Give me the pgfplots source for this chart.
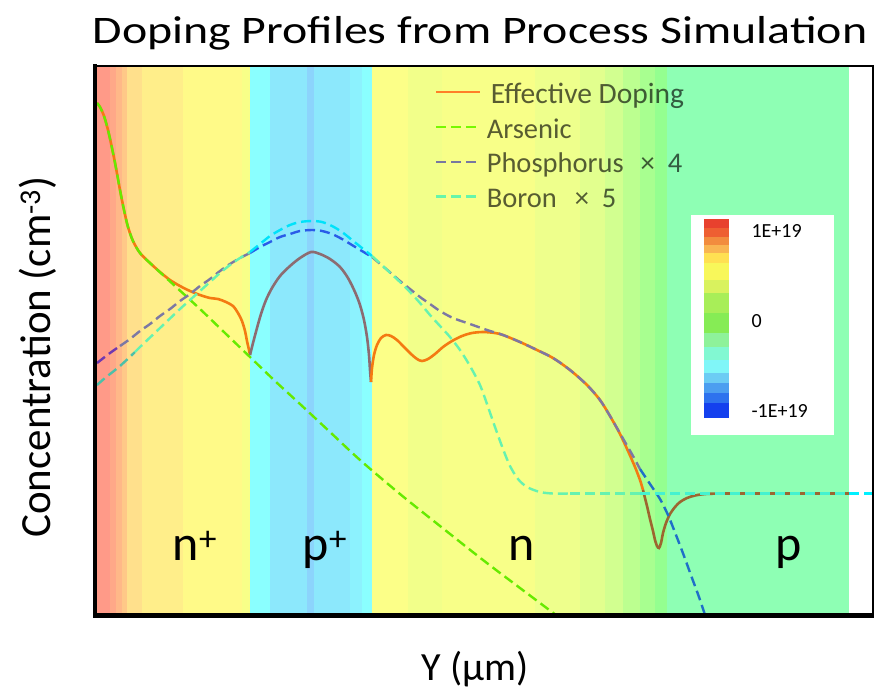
\documentclass[border=0pt]{standalone}
\usepackage{fontspec}
\setmainfont{Carlito}
\usepackage{pgfplots}
\pgfplotsset{compat=1.18}

\definecolor{effOr}{HTML}{F47A12}
\definecolor{effMa}{HTML}{8C6C72}
\definecolor{effBr}{HTML}{9C6630}
\definecolor{arsG}{HTML}{66EA00}
\definecolor{phN}{HTML}{7C78A4}
\definecolor{phL}{HTML}{7038B0}
\definecolor{phB}{HTML}{2A5CE8}
\definecolor{phP}{HTML}{1F6FC8}
\definecolor{boN}{HTML}{66F2B0}
\definecolor{boL}{HTML}{4CC0A8}
\definecolor{boC}{HTML}{00E2FA}
\definecolor{boP}{HTML}{44F2D0}
\definecolor{boW}{HTML}{00F0FF}
\definecolor{legOr}{HTML}{FF7F27}
\definecolor{legAs}{HTML}{77F800}
\definecolor{legPh}{HTML}{7878A0}
\definecolor{legBo}{HTML}{66F5AA}

\newcommand\lstrut{\rule[-6pt]{0pt}{30pt}}

\pgfplotsset{
  dl/.style={line width=2.4pt, dash pattern=on 10pt off 5pt},
  sl/.style={line width=2.6pt},
}

\begin{document}
\begin{tikzpicture}
\path[use as bounding box] (0pt,0pt) rectangle (874pt,689pt);
\begin{axis}[
  at={(95pt,74pt)}, anchor=south west,
  scale only axis, width=778pt, height=549pt,
  xmin=95, xmax=873, ymin=66, ymax=615, y dir=reverse,
  hide axis, clip=false,
  legend style={at={(0.4370,0.9800)}, anchor=north west, draw=none, fill=none,
    inner sep=0pt, column sep=3pt, row sep=5.4pt,
    nodes={inner sep=2pt, text opacity=0.64},
    font=\fontsize{28.5}{30}\selectfont},
  legend cell align=left,
  legend image code/.code={\draw[#1] (0pt,0pt) -- (44pt,0pt);},
]
% ---------- background colour bands (net doping map) ----------
\fill[fill={rgb,255:red,255;green,154;blue,136}] (axis cs:95,66) rectangle (axis cs:110,615);
\fill[fill={rgb,255:red,255;green,168;blue,136}] (axis cs:110,66) rectangle (axis cs:116,615);
\fill[fill={rgb,255:red,255;green,184;blue,136}] (axis cs:116,66) rectangle (axis cs:122,615);
\fill[fill={rgb,255:red,255;green,200;blue,136}] (axis cs:122,66) rectangle (axis cs:127,615);
\fill[fill={rgb,255:red,255;green,224;blue,140}] (axis cs:127,66) rectangle (axis cs:142,615);
\fill[fill={rgb,255:red,255;green,238;blue,138}] (axis cs:142,66) rectangle (axis cs:183,615);
\fill[fill={rgb,255:red,255;green,250;blue,136}] (axis cs:183,66) rectangle (axis cs:242,615);
\fill[fill={rgb,255:red,248;green,255;blue,136}] (axis cs:242,66) rectangle (axis cs:250,615);
\fill[fill={rgb,255:red,138;green,255;blue,255}] (axis cs:250,66) rectangle (axis cs:270,615);
\fill[fill={rgb,255:red,140;green,232;blue,252}] (axis cs:270,66) rectangle (axis cs:307,615);
\fill[fill={rgb,255:red,140;green,212;blue,252}] (axis cs:307,66) rectangle (axis cs:314,615);
\fill[fill={rgb,255:red,140;green,232;blue,252}] (axis cs:314,66) rectangle (axis cs:350,615);
\fill[fill={rgb,255:red,140;green,242;blue,254}] (axis cs:350,66) rectangle (axis cs:362,615);
\fill[fill={rgb,255:red,138;green,255;blue,255}] (axis cs:362,66) rectangle (axis cs:372,615);
\fill[fill={rgb,255:red,252;green,255;blue,136}] (axis cs:372,66) rectangle (axis cs:408,615);
\fill[fill={rgb,255:red,242;green,255;blue,138}] (axis cs:408,66) rectangle (axis cs:442,615);
\fill[fill={rgb,255:red,248;green,255;blue,136}] (axis cs:442,66) rectangle (axis cs:535,615);
\fill[fill={rgb,255:red,238;green,255;blue,140}] (axis cs:535,66) rectangle (axis cs:580,615);
\fill[fill={rgb,255:red,226;green,255;blue,142}] (axis cs:580,66) rectangle (axis cs:605,615);
\fill[fill={rgb,255:red,210;green,255;blue,144}] (axis cs:605,66) rectangle (axis cs:623,615);
\fill[fill={rgb,255:red,188;green,255;blue,144}] (axis cs:623,66) rectangle (axis cs:640,615);
\fill[fill={rgb,255:red,168;green,255;blue,144}] (axis cs:640,66) rectangle (axis cs:655,615);
\fill[fill={rgb,255:red,148;green,255;blue,144}] (axis cs:655,66) rectangle (axis cs:667,615);
\fill[fill={rgb,255:red,142;green,255;blue,180}] (axis cs:667,66) rectangle (axis cs:849,615);

% ---------- colour scale inset ----------
\fill[white] (axis cs:691,215) rectangle (axis cs:834,435);
\fill[fill={rgb,255:red,232;green,65;blue,46}]   (axis cs:704,219) rectangle (axis cs:729,228);
\fill[fill={rgb,255:red,238;green,95;blue,50}]   (axis cs:704,228) rectangle (axis cs:729,237);
\fill[fill={rgb,255:red,242;green,140;blue,62}]  (axis cs:704,237) rectangle (axis cs:729,245);
\fill[fill={rgb,255:red,249;green,181;blue,82}]  (axis cs:704,245) rectangle (axis cs:729,253);
\fill[fill={rgb,255:red,255;green,224;blue,82}]  (axis cs:704,253) rectangle (axis cs:729,263);
\fill[fill={rgb,255:red,248;green,247;blue,90}]  (axis cs:704,263) rectangle (axis cs:729,280);
\fill[fill={rgb,255:red,217;green,242;blue,94}]  (axis cs:704,280) rectangle (axis cs:729,293);
\fill[fill={rgb,255:red,168;green,238;blue,88}]  (axis cs:704,293) rectangle (axis cs:729,313);
\fill[fill={rgb,255:red,134;green,236;blue,85}]  (axis cs:704,313) rectangle (axis cs:729,333);
\fill[fill={rgb,255:red,142;green,242;blue,154}] (axis cs:704,333) rectangle (axis cs:729,347);
\fill[fill={rgb,255:red,130;green,248;blue,210}] (axis cs:704,347) rectangle (axis cs:729,360);
\fill[fill={rgb,255:red,128;green,246;blue,248}] (axis cs:704,360) rectangle (axis cs:729,373);
\fill[fill={rgb,255:red,108;green,204;blue,244}] (axis cs:704,373) rectangle (axis cs:729,383);
\fill[fill={rgb,255:red,76;green,158;blue,240}]  (axis cs:704,383) rectangle (axis cs:729,393);
\fill[fill={rgb,255:red,46;green,114;blue,238}]  (axis cs:704,393) rectangle (axis cs:729,403);
\fill[fill={rgb,255:red,20;green,64;blue,238}]   (axis cs:704,403) rectangle (axis cs:729,418);
\node[anchor=base west, font=\fontsize{20}{24}\selectfont] at (axis cs:748,237) {1E+19};
\node[anchor=base west, font=\fontsize{20}{24}\selectfont] at (axis cs:748,327) {0};
\node[anchor=base west, font=\fontsize{20}{24}\selectfont] at (axis cs:748,417) {-1E+19};

% ---------- Effective doping ----------
\addplot[sl, effOr, smooth, forget plot] coordinates {
(97,103) (100,107) (104,116) (108,130) (112,148) (116,168) (120,190) (124,210)
(128,227) (133,241) (140,253) (150,263) (160,272) (170,280) (180,286) (190,291)
(200,295) (210,298) (218,299) (226,302) (233,306) (238,313) (242,321) (245,331)
(247,341) (249,350) (250,355)};
\addplot[sl, effMa, smooth, forget plot] coordinates {
(250,355) (253,343) (257,328) (261,314) (266,300) (272,288) (280,276) (290,266)
(300,258) (311,252) (320,254) (330,259) (340,267) (348,278) (355,292) (360,305)
(364,320) (367,337) (369,355) (370,370) (371,382)};
\addplot[sl, effOr, smooth, forget plot] coordinates {
(371,382) (372,368) (374,355) (377,345) (381,338) (386,335) (391,336) (397,340)
(404,347) (411,354) (417,359) (422,361) (428,359) (435,354) (443,347) (452,341)
(462,336) (472,333) (483,332) (495,333) (503,335) (520,342) (537,350) (553,358)
(570,370) (587,385) (600,400) (610,416) (620,434) (628,451) (635,467) (640,480)
(643,490)};
\addplot[sl, effBr, smooth, forget plot] coordinates {
(643,490) (647,506) (650,519) (653,531) (655,540) (657,546) (659,548) (661,543)
(663,533) (666,523) (670,514) (675,507) (680,502) (687,498) (695,495.5) (705,494)
(720,493.5)};
\addplot[sl, effBr, forget plot] coordinates {(720,493.5) (849,493.5)};

% ---------- Arsenic ----------
\addplot[dl, arsG, smooth, forget plot] coordinates {
(97,103) (100,107) (104,116) (108,130) (112,148) (116,168) (120,190) (124,210)
(128,227) (133,241) (140,253) (150,263) (175,286) (200,309) (225,333) (250,357)
(275,381) (300,404) (330,432) (360,460) (400,494) (440,526) (483,560) (520,588)
(556,615)};

% ---------- Phosphorus x 4 ----------
\addplot[dl, phL, smooth, forget plot] coordinates {(97,363) (110,353) (120,346)};
\addplot[dl, phN, smooth, forget plot] coordinates {
(120,346) (130,339) (140,331) (150,324) (160,316) (170,309) (180,301) (190,294)
(200,286) (210,279) (220,271) (230,264) (240,258) (250,253)};
\addplot[dl, phB, smooth, forget plot] coordinates {
(250,253) (260,247) (270,242) (280,237) (290,234) (300,231) (312,230) (322,231)
(332,234) (342,239) (352,245) (362,251) (372,257)};
\addplot[dl, phN, smooth, forget plot] coordinates {
(372,257) (385,268) (400,281) (410,289) (420,297) (430,304) (440,311) (453,318)
(470,324) (487,330) (503,335) (520,342) (537,350) (553,358) (570,370) (587,385)
(600,400) (610,416) (617,428) (625,442) (633,456) (640,469)};
\addplot[dl, phP, smooth, forget plot] coordinates {
(640,469) (650,484) (660,499) (668,515) (676,535) (684,556) (692,578) (699,597)
(705,615)};

% ---------- Boron x 5 ----------
\addplot[dl, boL, smooth, forget plot] coordinates {(97,385) (105,378) (120,366) (135,352)};
\addplot[dl, boN, smooth, forget plot] coordinates {
(135,352) (140,347) (160,328) (180,309) (190,300) (200,291) (210,282) (220,273)
(230,265) (240,258) (250,252)};
\addplot[dl, boC, smooth, forget plot] coordinates {
(250,252) (260,244) (270,236) (280,230) (290,225) (300,222) (312,221) (322,222)
(332,226) (342,232) (352,240) (362,248) (372,256)};
\addplot[dl, boN, smooth, forget plot] coordinates {
(372,256) (385,268) (400,282) (410,292) (420,303) (430,315) (440,326) (450,337)
(460,350) (470,366) (480,385) (487,404) (495,427) (503,449) (510,466) (518,479)
(527,487) (540,492) (553,493.5) (570,493.5)};
\addplot[dl, boN, forget plot] coordinates {(570,493.5) (640,493.5)};
\addplot[dl, boP, forget plot] coordinates {(640,493.5) (849,493.5)};
\addplot[dl, boW, forget plot] coordinates {(849,493.5) (873,493.5)};

% ---------- region labels ----------
\node[anchor=base, font=\fontsize{50}{56}\selectfont] at (axis cs:195,560) {n\textsuperscript{+}};
\node[anchor=base, font=\fontsize{50}{56}\selectfont] at (axis cs:325,560) {p\textsuperscript{+}};
\node[anchor=base, font=\fontsize{50}{56}\selectfont] at (axis cs:522,560) {n};
\node[anchor=base, font=\fontsize{50}{56}\selectfont] at (axis cs:789,560) {p};

% ---------- frame ----------
\draw[line width=2pt] (axis cs:95,66) -- (axis cs:873,66) -- (axis cs:873,615);
\draw[line width=4.5pt, line cap=rect] (axis cs:95,66) -- (axis cs:95,615.5) -- (axis cs:873,615.5);

% ---------- title and axis labels ----------
\node[anchor=base, xscale=1.227, font=\fontsize{39}{46}\selectfont] at (axis cs:480,43) {Doping Profiles from Process Simulation};
\node[anchor=base, rotate=90, font=\fontsize{43}{48}\selectfont] at (axis cs:50,357) {Concentration (cm\textsuperscript{-3})};
\node[anchor=base, font=\fontsize{40}{46}\selectfont] at (axis cs:475,680) {Y (µm)};

% ---------- legend ----------
\addlegendimage{sl, legOr}
\addlegendentry{\lstrut\hspace{4pt}\fontsize{29.5}{30}\selectfont Effective Doping}
\addlegendimage{dl, legAs}
\addlegendentry{\lstrut Arsenic}
\addlegendimage{dl, legPh}
\addlegendentry{\lstrut Phosphorus\hspace{17pt}×\hspace{13pt}4}
\addlegendimage{dl, legBo}
\addlegendentry{\lstrut Boron\hspace{18pt}×\hspace{13pt}5}
\end{axis}
\end{tikzpicture}
\end{document}
